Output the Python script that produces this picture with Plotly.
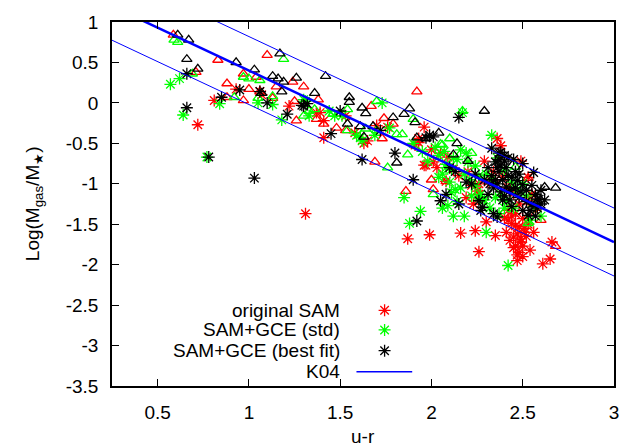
import plotly.graph_objects as go

# ---------------- data ----------------
x_ticks = [0.5, 1, 1.5, 2, 2.5, 3]
x_tick_labels = ["0.5", "1", "1.5", "2", "2.5", "3"]
y_ticks = [1, 0.5, 0, -0.5, -1, -1.5, -2, -2.5, -3, -3.5]
y_tick_labels = ["1", "0.5", "0", "-0.5", "-1", "-1.5", "-2", "-2.5", "-3", "-3.5"]

# original SAM (red)
red_star_x = [0.72, 1.31, 0.81, 0.93, 1.06, 1.07, 1.22, 1.37, 1.39, 1.41, 1.41, 1.53, 1.58, 1.63, 1.65,
              1.91, 1.93, 1.93, 1.96, 1.97, 2.01, 2.03, 2.36, 2.49, 2.53, 1.87, 1.99, 2.16, 2.24, 2.30,
              2.35, 2.41, 2.26, 2.46, 2.48, 2.47, 2.54, 2.61, 2.65, 2.66, 2.45, 2.50, 2.44, 2.48, 2.50,
              2.23, 2.19, 2.26, 2.31, 2.42, 2.46, 2.53, 2.55, 2.57, 2.26, 2.12, 2.15, 2.20, 2.29, 2.34,
              2.39, 2.42, 2.45, 2.48, 2.51, 2.49, 2.47, 2.43, 2.52, 2.38, 2.05, 2.09, 1.96, 2.00, 1.76,
              1.70, 2.22, 2.25, 2.42, 2.46, 2.08, 2.47, 2.49, 2.51, 2.45, 2.53, 2.50, 2.44, 2.40, 2.56]
red_star_y = [-0.27, -1.37, 0.03, 0.17, 0.14, 0.10, -0.04, -0.12, -0.12, -0.22, -0.43, -0.16, -0.37, -0.50, -0.47,
              -0.52, -0.49, -0.44, -0.77, -0.77, -0.73, -0.80, -0.44, -0.72, -0.92, -1.68, -1.63, -1.61, -1.58, -1.47,
              -1.64, -1.60, -1.84, -1.77, -1.85, -1.95, -1.82, -1.99, -1.93, -1.72, -1.79, -1.77, -1.49, -1.53, -1.43,
              -1.25, -1.17, -1.00, -0.98, -1.33, -1.37, -1.21, -1.13, -1.33, -1.13, -0.82, -0.90, -0.85, -0.72, -0.85,
              -0.92, -1.05, -1.12, -1.25, -1.55, -1.68, -1.62, -1.70, -1.65, -0.53, -0.62, -0.67, -0.30, -0.58, -0.30,
              -0.28, -1.02, -1.09, -1.45, -1.52, -0.97, -1.88, -1.72, -1.60, -1.66, -1.50, -1.90, -1.40, -1.42, -1.60]
red_tri_x = [0.586, 1.10, 0.83, 0.71, 0.88, 0.97, 1.04, 1.15, 1.24, 1.30, 0.88, 0.97, 1.00, 1.06, 1.13,
             1.26, 1.25, 1.37, 1.92, 1.67, 1.74, 1.79, 1.53, 1.41, 1.48, 1.69, 2.00, 1.38, 2.53, 2.60,
             1.86, 2.01, 2.08, 2.68, 1.73]
red_tri_y = [0.84, 0.59, 0.53, 0.38, 0.24, 0.36, 0.32, 0.20, 0.26, 0.20, 0.07, 0.03, 0.17, 0.14, 0.06,
             -0.22, 0.02, -0.20, 0.14, -0.04, -0.19, -0.26, -0.34, -0.26, -0.31, -0.73, -0.95, 0.04, -0.93, -1.45,
             -1.09, -1.07, -0.97, -1.77, -0.44]

# SAM+GCE (std) (green)
green_star_x = [0.57, 0.62, 0.64, 0.77, 0.84, 1.05, 1.13, 1.18, 1.33, 1.30, 1.31, 1.73, 1.77, 1.61, 1.62,
                1.59, 1.69, 1.51, 1.47, 1.44, 2.04, 2.08, 2.06, 2.17, 2.33, 2.08, 2.11, 2.11, 2.12, 2.18,
                2.27, 2.28, 2.21, 2.24, 2.41, 2.38, 1.85, 1.94, 1.88, 2.42, 2.30, 2.09, 2.13, 2.16, 2.26,
                2.29, 2.35, 2.37, 2.40, 2.02, 2.07, 2.14, 2.19, 2.24, 2.30, 2.33, 2.36, 2.40, 2.44, 2.50,
                2.47, 2.52, 2.56, 2.45, 2.54, 2.60, 2.10, 2.16, 1.98, 1.90, 1.95, 2.20, 2.06, 2.14, 2.18,
                2.22, 2.26, 2.12, 2.32, 2.04]
green_star_y = [0.23, 0.30, -0.15, -0.67, -0.01, 0.00, -0.02, -0.21, -0.16, 0.04, 0.02, 0.00, -0.31, -0.43, -0.47,
                -0.40, -0.40, -0.16, -0.16, -0.10, -0.65, -0.80, -0.88, -0.12, -0.40, -0.76, -0.82, -1.11, -1.40, -1.40,
                -1.13, -1.20, -0.95, -1.03, -1.21, -1.13, -1.17, -1.34, -1.49, -2.01, -1.60, -1.27, -1.07, -1.05, -1.17,
                -1.20, -1.17, -1.37, -1.30, -0.55, -0.60, -0.70, -0.62, -0.78, -0.88, -0.95, -0.68, -0.83, -0.98, -1.00,
                -1.07, -1.15, -1.28, -1.30, -1.45, -1.40, -0.98, -0.58, -0.72, -0.50, -0.60, -0.73, -1.30, -1.22, -0.88,
                -1.15, -0.90, -0.68, -1.30, -0.92]
green_tri_x = [0.59, 0.61, 1.19, 0.97, 1.00, 1.06, 0.69, 0.92, 1.05, 1.13, 1.30, 1.33, 1.36, 1.46, 1.54,
               1.70, 1.54, 1.70, 1.81, 1.84, 1.87, 1.76, 2.05, 2.17, 2.10, 2.22, 2.46, 2.06, 2.01, 2.53,
               1.64, 1.90]
green_tri_y = [0.78, 0.75, 0.54, 0.32, 0.30, 0.28, 0.36, 0.07, 0.06, 0.08, -0.16, -0.10, -0.08, -0.14, -0.08,
               0.02, -0.34, -0.34, -0.39, -0.39, -0.64, -0.80, -0.51, -0.10, -0.44, -0.62, -0.79, -0.52, -1.13, -1.49,
               -0.32, -0.20]

# SAM+GCE (best fit) (black)
black_star_x = [0.66, 0.78, 1.03, 0.85, 0.95, 1.10, 1.21, 1.29, 1.32, 0.66, 1.06, 1.30, 1.45, 1.50, 1.62,
                1.72, 1.80, 1.90, 1.99, 2.01, 1.92, 2.05, 2.15, 2.33, 2.37, 2.41, 2.43, 2.48, 2.50, 2.54,
                2.56, 2.57, 2.59, 2.34, 2.36, 2.26, 2.31, 2.35, 2.38, 2.40, 2.42, 2.37, 2.33, 2.46, 2.50,
                2.08, 2.10, 2.19, 2.22, 2.28, 2.31, 2.50, 2.38, 2.15, 2.27, 2.53, 2.58, 2.60, 2.60, 2.55,
                2.44, 2.39, 2.36, 2.41, 2.45, 2.47, 2.52, 2.34, 2.29, 2.24, 2.13, 1.97, 2.35, 2.38, 2.40,
                2.43, 2.46, 2.49, 2.52, 2.55, 2.58, 2.44, 2.40, 2.37, 2.36, 2.42, 2.48, 2.32, 2.39, 2.57,
                2.62]
black_star_y = [-0.06, -0.67, -0.93, 0.07, 0.16, 0.00, -0.14, -0.03, -0.01, 0.36, 0.14, -0.04, -0.38, -0.10, -0.70,
                -0.34, -0.62, -0.95, -0.40, -0.42, -1.46, -1.21, -0.18, -0.56, -0.85, -1.04, -1.08, -1.17, -1.33, -1.33,
                -0.86, -1.13, -1.19, -1.37, -1.41, -1.21, -1.13, -0.73, -0.77, -0.65, -0.68, -0.62, -0.90, -0.85, -1.01,
                -1.13, -0.80, -0.98, -1.00, -1.29, -0.80, -0.75, -0.61, -1.25, -1.33, -1.39, -1.19, -1.25, -1.08, -1.02,
                -0.92, -0.95, -1.00, -0.80, -0.70, -0.96, -1.08, -1.05, -0.95, -0.88, -0.85, -0.43, -0.95, -1.10, -1.15,
                -1.20, -1.05, -1.10, -1.22, -1.25, -1.30, -1.28, -0.72, -0.70, -0.80, -0.90, -0.88, -1.00, -1.20, -1.40,
                -1.20]
black_tri_x = [0.61, 0.67, 0.66, 0.72, 1.17, 0.93, 1.03, 1.13, 1.16, 1.19, 1.26, 1.36, 1.18, 1.07, 1.42,
               1.55, 1.55, 1.62, 1.64, 1.68, 1.54, 1.61, 1.79, 1.85, 1.88, 1.91, 1.92, 1.97, 2.04, 1.81,
               1.63, 2.29, 2.62, 2.68, 2.14, 2.12, 2.20, 2.57, 2.45]
black_tri_y = [0.84, 0.78, 0.54, 0.42, 0.61, 0.50, 0.41, 0.33, 0.30, 0.26, 0.31, 0.12, 0.14, 0.12, 0.33,
               0.07, 0.01, -0.06, -0.13, -0.29, -0.26, -0.29, -0.18, -0.14, -0.07, -0.24, -0.43, -0.44, -0.37, -0.74,
               -0.42, -0.10, -1.04, -1.05, -0.50, -0.64, -0.72, -1.25, -1.10]

# K04 relation and its scatter band
k04_x = [0.25, 3.0]
k04_y = [1.195, -1.72]
k04_band = 0.42

# ---------------- figure ----------------
RED, GREEN, BLACK, BLUE = "#ff0000", "#00ff00", "#000000", "#0000ff"
FONT = "Liberation Sans, Arial, Helvetica, sans-serif"
FS = 19

fig = go.Figure()

def stars(x, y, c):
    fig.add_trace(go.Scatter(x=x, y=y, mode="markers", showlegend=False,
                             marker=dict(symbol="asterisk-open", size=10, color=c,
                                         line=dict(color=c, width=1.3))))

def tris(x, y, c):
    fig.add_trace(go.Scatter(x=x, y=y, mode="markers", showlegend=False,
                             marker=dict(symbol="triangle-up-open", size=9, color=c,
                                         line=dict(color=c, width=1.3))))

stars(red_star_x, red_star_y, RED)
tris(red_tri_x, red_tri_y, RED)
stars(green_star_x, green_star_y, GREEN)
tris(green_tri_x, green_tri_y, GREEN)
stars(black_star_x, black_star_y, BLACK)
tris(black_tri_x, black_tri_y, BLACK)

fig.add_trace(go.Scatter(x=k04_x, y=[v + k04_band for v in k04_y], mode="lines", showlegend=False,
                         line=dict(color=BLUE, width=1)))
fig.add_trace(go.Scatter(x=k04_x, y=[v - k04_band for v in k04_y], mode="lines", showlegend=False,
                         line=dict(color=BLUE, width=1)))
fig.add_trace(go.Scatter(x=k04_x, y=k04_y, mode="lines", showlegend=False,
                         line=dict(color=BLUE, width=2.5)))

# manual gnuplot-style legend (text right-aligned, sample on the right)
leg_rows = [("original SAM", RED, 0.208), ("SAM+GCE (std)", GREEN, 0.154),
            ("SAM+GCE (best fit)", BLACK, 0.097)]
for label, c, yy in leg_rows:
    fig.add_trace(go.Scatter(x=[0.543], y=[yy], xaxis="x2", yaxis="y2", mode="markers", showlegend=False,
                             marker=dict(symbol="asterisk-open", size=10, color=c, line=dict(color=c, width=1.3))))
    fig.add_annotation(x=0.459, y=yy, xref="paper", yref="paper", text=label, showarrow=False,
                       xanchor="right", yanchor="middle", font=dict(family=FONT, size=FS, color="black"))
fig.add_trace(go.Scatter(x=[0.487, 0.598], y=[0.039, 0.039], xaxis="x2", yaxis="y2", mode="lines",
                         showlegend=False, line=dict(color=BLUE, width=1.5)))
fig.add_annotation(x=0.459, y=0.039, xref="paper", yref="paper", text="K04", showarrow=False,
                   xanchor="right", yanchor="middle", font=dict(family=FONT, size=FS, color="black"))

# axis titles
fig.add_annotation(x=-0.155, y=0.5, xref="paper", yref="paper", textangle=-90, showarrow=False,
                   text="Log(M<sub>gas</sub>/M<sub>★</sub>)", xanchor="center", yanchor="middle",
                   font=dict(family=FONT, size=FS, color="black"))
fig.add_annotation(x=0.5, y=-0.14, xref="paper", yref="paper", showarrow=False, text="u-r",
                   xanchor="center", yanchor="middle", font=dict(family=FONT, size=FS, color="black"))

axis_common = dict(showgrid=False, zeroline=False, showline=True, linecolor="black", linewidth=1.5,
                   mirror="ticks", ticks="inside", ticklen=7, tickwidth=1, tickcolor="black",
                   tickfont=dict(family=FONT, size=FS, color="black"), ticklabelstandoff=8)

fig.update_layout(
    width=631, height=447,
    margin=dict(l=112, r=16, t=14, b=61),
    paper_bgcolor="white", plot_bgcolor="white",
    font=dict(family=FONT, size=FS, color="black"),
    xaxis=dict(range=[0.25, 3], tickvals=x_ticks, ticktext=x_tick_labels, **axis_common),
    yaxis=dict(range=[-3.5, 1], tickvals=y_ticks, ticktext=y_tick_labels, **axis_common),
    xaxis2=dict(range=[0, 1], overlaying="x", visible=False, fixedrange=True),
    yaxis2=dict(range=[0, 1], overlaying="y", visible=False, fixedrange=True),
    showlegend=False,
)

fig.write_html("out.html")
